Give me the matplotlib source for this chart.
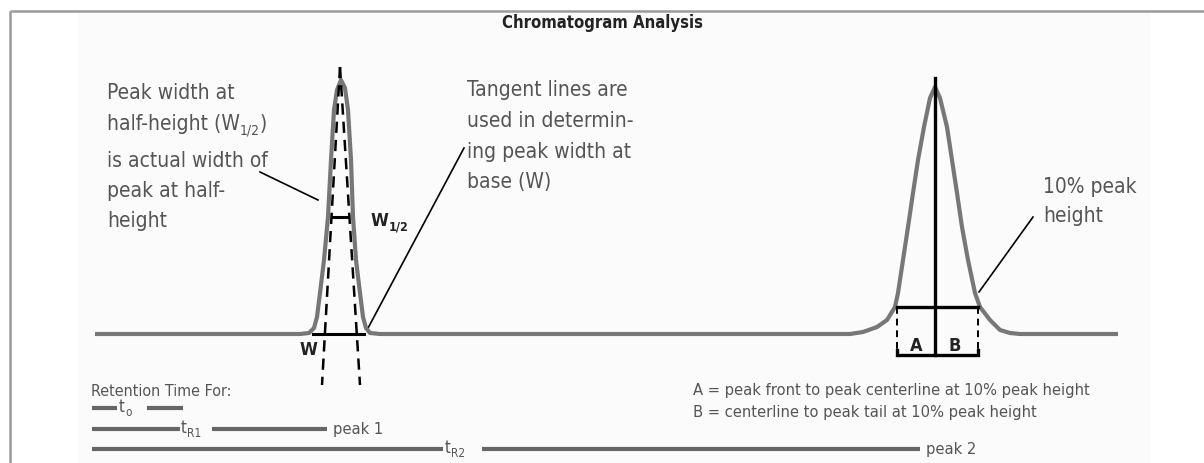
import matplotlib
matplotlib.use("Agg")
import matplotlib.pyplot as plt
from matplotlib.patches import Rectangle

plt.rcParams['font.family'] = ['DejaVu Sans']
plt.rcParams['font.stretch'] = 'condensed'

# ---------------- data -------------
title = "Chromatogram Analysis"

peak1_time = [300, 309, 314, 317, 320, 324, 328, 331, 334, 337, 341, 345, 348, 351, 353, 356, 360, 363, 366, 370, 380]
peak1_signal = [0, 1, 6, 17, 41, 74, 117, 174, 224, 244, 254, 246, 224, 174, 117, 74, 41, 17, 6, 1, 0]

peak2_time = [850, 863, 877, 887, 895, 898, 903, 908, 913, 918, 924, 930, 935, 940, 947, 952, 957, 962, 968, 975, 980, 990, 1000, 1010, 1020]
peak2_signal = [0, 2, 7, 14, 27, 41, 74, 107, 141, 174, 207, 236, 247, 236, 207, 174, 141, 107, 74, 41, 27, 14, 4, 1, 0]

baseline_start, baseline_end = 95, 1118

retention_subs = ['o', 'R1', 'R2']
retention_end = [183, 327, 920]
retention_peak = ['', 'peak 1', 'peak 2']

left_note = ["Peak width at", "half-height (W", "is actual width of", "peak at half-", "height"]
mid_note = ["Tangent lines are", "used in determin-", "ing peak width at", "base (W)"]
right_note = ["10% peak", "height"]
legend_lines = ["A = peak front to peak centerline at 10% peak height",
                "B = centerline to peak tail at 10% peak height"]

# ---------------- figure ----------------
W, H = 1204, 463
BASE = 334  # pixel row of baseline
fig = plt.figure(figsize=(W / 100, H / 100), dpi=100)
ax = fig.add_axes([0, 0, 1, 1])
ax.set_xlim(0, W)
ax.set_ylim(BASE - H, BASE)
ax.axis('off')
renderer = fig.canvas.get_renderer()


def Y(py):
    return BASE - py


GRAY = '#777777'
TXT = '#555555'
DARK = '#222222'


def rich(x, py, pieces, color=TXT, weight='normal'):
    """Draw consecutive text pieces: (string, fontsize, drop in px)."""
    for s, fs, dy in pieces:
        t = ax.text(x, Y(py + dy), s, ha='left', va='baseline', fontsize=fs,
                    color=color, fontweight=weight)
        x += t.get_window_extent(renderer).width
    return x


# frame and faint panel
ax.add_patch(Rectangle((78, Y(463)), 1072, 450, color='#fbfbfb', zorder=0, lw=0))
ax.plot([10, 1204], [Y(11), Y(11)], color='#9a9a9a', lw=1.8, solid_capstyle='butt')
ax.plot([10, 10], [Y(11), Y(463)], color='#9a9a9a', lw=1.8, solid_capstyle='butt')

ax.text(602, Y(28), title, ha='center', va='baseline', fontsize=12, fontweight='bold', color=DARK)

# chromatogram trace
trace_t = [baseline_start] + peak1_time + peak2_time + [baseline_end]
trace_s = [0] + peak1_signal + peak2_signal + [0]
ax.plot(trace_t, trace_s, color=GRAY, lw=3.0, solid_joinstyle='round', solid_capstyle='butt', zorder=3)

K = 'black'
# ---- peak 1 annotations ----
apex1 = peak1_time[peak1_signal.index(max(peak1_signal))] - 1
ax.plot([apex1, 322], [Y(67), Y(385)], color=K, lw=1.8, ls=(0, (4.5, 2.8)), zorder=4)
ax.plot([apex1, 360], [Y(67), Y(385)], color=K, lw=1.8, ls=(0, (4.5, 2.8)), zorder=4)
ax.plot([333, 348], [Y(217), Y(217)], color=K, lw=2.2, zorder=4)
ax.plot([313, 364], [0, 0], color=K, lw=2.2, zorder=4)
ax.text(308, Y(355), "W", ha='center', va='baseline', fontsize=13, fontweight='bold', color=DARK)
rich(371, 226, [("W", 13, 0), ("1/2", 9, 4)], color=DARK, weight='bold')
ax.plot([260, 318], [Y(172), Y(200)], color=K, lw=1.2)
ax.plot([367, 464], [Y(330), Y(148)], color=K, lw=1.2)

# ---- peak 2 annotations ----
apex2 = peak2_time[peak2_signal.index(max(peak2_signal))]
ten_pct = 0.1 * max(peak2_signal)
left10, right10 = 897, 978
ax.plot([apex2, apex2], [Y(78), Y(355)], color=K, lw=2.4, zorder=4)
ax.plot([left10, right10], [ten_pct + 2, ten_pct + 2], color=K, lw=2.4, zorder=4)
for xx in (left10, right10):
    ax.plot([xx, xx], [ten_pct + 2, Y(352)], color=K, lw=1.4, ls=(0, (3.5, 2.5)), zorder=4)
ax.plot([left10, left10, right10, right10], [Y(350), Y(355), Y(355), Y(350)], color=K, lw=2.4,
        solid_joinstyle='miter', zorder=4)
ax.text(916, Y(351), "A", ha='center', va='baseline', fontsize=13, fontweight='bold', color=DARK)
ax.text(955, Y(351), "B", ha='center', va='baseline', fontsize=13, fontweight='bold', color=DARK)
ax.plot([979, 1033], [Y(292), Y(217)], color=K, lw=1.2)

# ---- notes ----
for line, py in zip(left_note, [99, 130, 167, 197, 227]):
    if line.endswith("(W"):
        rich(107, py, [(line, 15, 0), ("1/2", 10, 5), (")", 15, 0)])
    else:
        ax.text(107, Y(py), line, ha='left', va='baseline', fontsize=15, color=TXT)
for line, py in zip(mid_note, [96, 127, 158, 188]):
    ax.text(467, Y(py), line, ha='left', va='baseline', fontsize=15, color=TXT)
for line, py in zip(right_note, [193, 222]):
    ax.text(1043, Y(py), line, ha='left', va='baseline', fontsize=15, color=TXT)
for line, py in zip(legend_lines, [395, 417]):
    ax.text(693, Y(py), line, ha='left', va='baseline', fontsize=11.8, color=TXT)

# ---- retention times ----
ax.text(91, Y(396), "Retention Time For:", ha='left', va='baseline', fontsize=11.5, color=TXT)
row_py = [408, 429, 449]
gaps = [(117, 147), (180, 212), (443, 482)]
lab_x = [119, 181, 445]
for sub, end, pk, py, (g0, g1), lx in zip(retention_subs, retention_end, retention_peak, row_py, gaps, lab_x):
    ax.plot([92, g0], [Y(py), Y(py)], color='#666666', lw=3, solid_capstyle='butt')
    ax.plot([g1, end], [Y(py), Y(py)], color='#666666', lw=3, solid_capstyle='butt')
    rich(lx, py + 4, [("t", 12, 0), (sub, 8.5, 4)])
    if pk:
        ax.text(end + 6, Y(py + 5), pk, ha='left', va='baseline', fontsize=11.8, color=TXT)

fig.savefig("out.png", dpi=100, facecolor='white')
